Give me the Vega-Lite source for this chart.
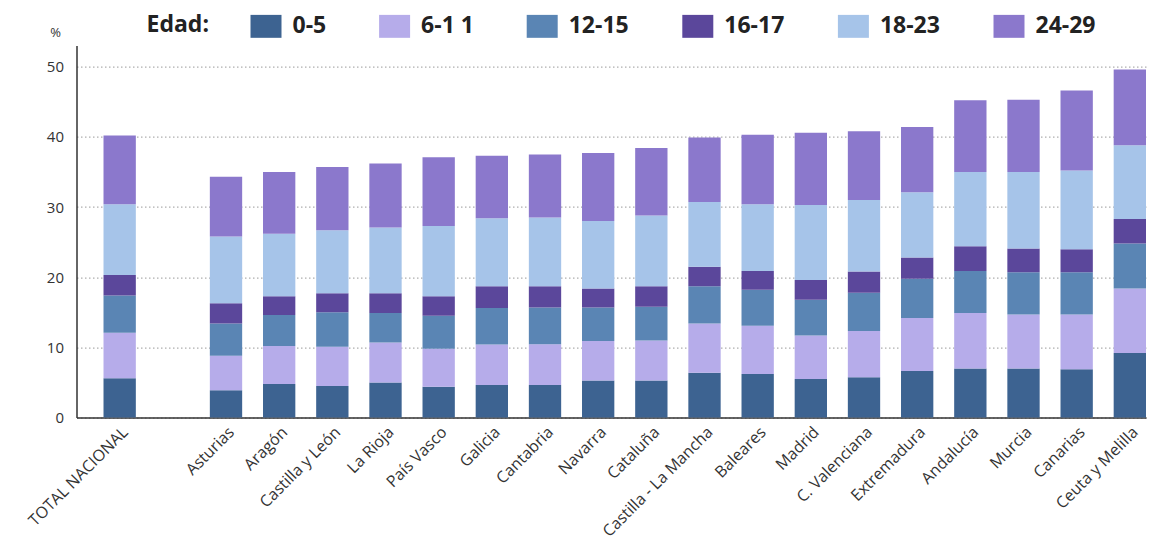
{
  "$schema": "https://vega.github.io/schema/vega-lite/v6.json",
  "width": 1069.5,
  "height": 372,
  "autosize": {"type": "none"},
  "padding": {"left": 76.5, "top": 45.6, "right": 24, "bottom": 138.4},
  "background": "white",
  "config": {"view": {"stroke": null}, "font": "Open Sans"},
  "data": {
    "values": [
      {"region": "TOTAL NACIONAL", "0-5": 5.6, "6-1 1": 6.5, "12-15": 5.3, "16-17": 2.9, "18-23": 10.1, "24-29": 9.8},
      {"region": "Asturias", "0-5": 3.9, "6-1 1": 4.9, "12-15": 4.6, "16-17": 2.9, "18-23": 9.5, "24-29": 8.5},
      {"region": "Aragón", "0-5": 4.8, "6-1 1": 5.4, "12-15": 4.4, "16-17": 2.7, "18-23": 8.9, "24-29": 8.8},
      {"region": "Castilla y León", "0-5": 4.5, "6-1 1": 5.6, "12-15": 4.9, "16-17": 2.7, "18-23": 9.0, "24-29": 9.0},
      {"region": "La Rioja", "0-5": 5.0, "6-1 1": 5.7, "12-15": 4.2, "16-17": 2.8, "18-23": 9.4, "24-29": 9.1},
      {"region": "País Vasco", "0-5": 4.4, "6-1 1": 5.4, "12-15": 4.7, "16-17": 2.8, "18-23": 10.0, "24-29": 9.8},
      {"region": "Galicia", "0-5": 4.65, "6-1 1": 5.75, "12-15": 5.2, "16-17": 3.1, "18-23": 9.7, "24-29": 8.9},
      {"region": "Cantabria", "0-5": 4.65, "6-1 1": 5.8, "12-15": 5.25, "16-17": 3.0, "18-23": 9.8, "24-29": 9.0},
      {"region": "Navarra", "0-5": 5.3, "6-1 1": 5.6, "12-15": 4.8, "16-17": 2.7, "18-23": 9.6, "24-29": 9.7},
      {"region": "Cataluña", "0-5": 5.3, "6-1 1": 5.7, "12-15": 4.8, "16-17": 2.9, "18-23": 10.1, "24-29": 9.6},
      {"region": "Castilla - La Mancha", "0-5": 6.4, "6-1 1": 7.0, "12-15": 5.3, "16-17": 2.8, "18-23": 9.2, "24-29": 9.2},
      {"region": "Baleares", "0-5": 6.2, "6-1 1": 6.9, "12-15": 5.1, "16-17": 2.7, "18-23": 9.5, "24-29": 9.9},
      {"region": "Madrid", "0-5": 5.5, "6-1 1": 6.2, "12-15": 5.1, "16-17": 2.8, "18-23": 10.7, "24-29": 10.3},
      {"region": "C. Valenciana", "0-5": 5.75, "6-1 1": 6.6, "12-15": 5.45, "16-17": 3.0, "18-23": 10.2, "24-29": 9.8},
      {"region": "Extremadura", "0-5": 6.65, "6-1 1": 7.55, "12-15": 5.6, "16-17": 3.0, "18-23": 9.3, "24-29": 9.3},
      {"region": "Andalucía", "0-5": 7.0, "6-1 1": 7.9, "12-15": 6.0, "16-17": 3.5, "18-23": 10.6, "24-29": 10.2},
      {"region": "Murcia", "0-5": 7.0, "6-1 1": 7.7, "12-15": 6.0, "16-17": 3.4, "18-23": 10.9, "24-29": 10.3},
      {"region": "Canarias", "0-5": 6.9, "6-1 1": 7.8, "12-15": 6.0, "16-17": 3.3, "18-23": 11.2, "24-29": 11.4},
      {"region": "Ceuta y Melilla", "0-5": 9.2, "6-1 1": 9.2, "12-15": 6.4, "16-17": 3.5, "18-23": 10.5, "24-29": 10.8}
    ]
  },
  "transform": [
    {"fold": ["0-5", "6-1 1", "12-15", "16-17", "18-23", "24-29"], "as": ["edad", "valor"]},
    {"window": [{"op": "row_number", "as": "orden"}], "groupby": ["region"]}
  ],
  "mark": {"type": "bar"},
  "encoding": {
    "x": {
      "field": "region",
      "type": "nominal",
      "scale": {
        "domain": ["TOTAL NACIONAL", " ", "Asturias", "Aragón", "Castilla y León", "La Rioja", "País Vasco", "Galicia", "Cantabria", "Navarra", "Cataluña", "Castilla - La Mancha", "Baleares", "Madrid", "C. Valenciana", "Extremadura", "Andalucía", "Murcia", "Canarias", "Ceuta y Melilla"],
        "paddingInner": 0.392,
        "paddingOuter": 0.254,
        "align": 1
      },
      "axis": {
        "title": null,
        "labelAngle": -45,
        "ticks": false,
        "labelPadding": 6,
        "labelFontSize": 16,
        "labelColor": "#333",
        "domainColor": "#333",
        "domainWidth": 1.5,
        "grid": false
      }
    },
    "y": {
      "field": "valor",
      "type": "quantitative",
      "stack": "zero",
      "scale": {"domain": [0, 53], "nice": false},
      "axis": {
        "values": [0, 10, 20, 30, 40, 50],
        "title": "%",
        "titleAngle": 0,
        "titleX": -21.5,
        "titleY": -13.6,
        "titleAlign": "center",
        "titleBaseline": "middle",
        "titleFontSize": 13,
        "titleFontWeight": "normal",
        "titleColor": "#333",
        "ticks": false,
        "labelPadding": 13,
        "labelFontSize": 15,
        "labelColor": "#333",
        "domainColor": "#333",
        "domainWidth": 1.5,
        "grid": true,
        "gridColor": "#999",
        "gridDash": [1.5, 2.5]
      }
    },
    "color": {
      "field": "edad",
      "type": "nominal",
      "scale": {
        "domain": ["0-5", "6-1 1", "12-15", "16-17", "18-23", "24-29"],
        "range": ["#3d6391", "#b6acea", "#5a85b4", "#5b479b", "#a6c4e9", "#8b78cc"]
      },
      "legend": {
        "orient": "none",
        "legendX": 70,
        "legendY": -35,
        "direction": "horizontal",
        "title": "Edad:",
        "titleOrient": "left",
        "titleFontSize": 23,
        "titleFontWeight": "bold",
        "titleColor": "#222",
        "titlePadding": 41,
        "symbolType": "M-1,-0.74H1V0.74H-1Z",
        "symbolSize": 961,
        "symbolStrokeWidth": 0,
        "symbolOpacity": 1,
        "labelFontSize": 23,
        "labelFontWeight": "bold",
        "labelColor": "#222",
        "labelOffset": 11,
        "columnPadding": 52.6,
        "labelLimit": 200
      }
    },
    "order": {"field": "orden", "type": "quantitative"}
  }
}
